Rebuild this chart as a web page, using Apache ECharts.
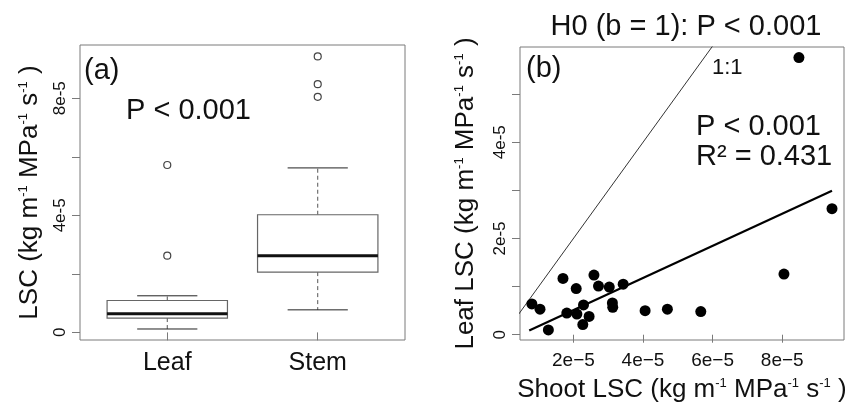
<!DOCTYPE html>
<html><head><meta charset="utf-8">
<script src="https://cdn.jsdelivr.net/npm/echarts@6/dist/echarts.min.js"></script>
<style>html,body{margin:0;padding:0;background:#fff}#c{width:845px;height:405px}</style>
</head><body><div id="c"></div>
<script>
// ---------- data ----------
const categories = ['Leaf', 'Stem'];
// five-number summaries: [lower whisker, Q1, median, Q3, upper whisker]
const leafBox = [1.16e-6, 4.9e-6, 6.4e-6, 1.09e-5, 1.25e-5];
const stemBox = [7.7e-6, 2.06e-5, 2.62e-5, 4.02e-5, 5.62e-5];
const leafOutliers = [2.62e-5, 5.72e-5];
const stemOutliers = [8.05e-5, 8.48e-5, 9.43e-5];

const shootLSC = [8.48e-5, 9.43e-5, 8.05e-5, 0.806e-5, 1.04e-5, 1.28e-5, 1.70e-5, 1.81e-5, 2.08e-5, 2.10e-5, 2.29e-5,
                  2.27e-5, 2.45e-5, 2.59e-5, 2.72e-5, 3.03e-5, 3.12e-5, 3.13e-5, 3.43e-5, 4.06e-5, 4.70e-5, 5.66e-5];
const leafLSC  = [5.76e-5, 2.62e-5, 1.26e-5, 0.64e-5, 0.53e-5, 0.10e-5, 1.17e-5, 0.45e-5, 0.96e-5, 0.43e-5, 0.62e-5,
                  0.21e-5, 0.38e-5, 1.24e-5, 1.01e-5, 0.99e-5, 0.66e-5, 0.57e-5, 1.05e-5, 0.50e-5, 0.53e-5, 0.48e-5];

const fitX = [0.73e-5, 9.43e-5];
const fitY = [0.089e-5, 2.99e-5];
const oneToOneX = [0, 1e-4];
const oneToOneY = [0, 1e-4];

const aYTickValues = [0, 2e-5, 4e-5, 6e-5, 8e-5];
const aYLabelValues = [0, 4e-5, 8e-5];
const aYLabelTexts = ['0', '4e-5', '8e-5'];
const bXTickValues = [2e-5, 4e-5, 6e-5, 8e-5];
const bXLabelTexts = ['2e\u22125', '4e\u22125', '6e\u22125', '8e\u22125'];
const bYTickValues = [0, 1e-5, 2e-5, 3e-5, 4e-5, 5e-5];
const bYLabelValues = [0, 2e-5, 4e-5];
const bYLabelTexts = ['0', '2e-5', '4e-5'];

// ---------- styling ----------
const F = '"Liberation Sans", Arial, Helvetica, sans-serif';
const TXT = '#111';
const FRAME = '#7a7a7a';
const rich = {
  m: { fontSize: 26, fontFamily: F, color: TXT },
  s: { fontSize: 13, fontFamily: F, color: TXT, verticalAlign: 'top' }
};
const unitName = (pre) => '{m|' + pre + 'LSC (kg m}{s|-1}{m| MPa}{s|-1}{m| s}{s|-1}{m| )}';

function labelFrom(values, texts) {
  return function (v) {
    for (let i = 0; i < values.length; i++) if (Math.abs(values[i] - v) < 1e-12) return texts[i];
    return '';
  };
}

const chart = echarts.init(document.getElementById('c'), null, { renderer: 'canvas' });

function renderBox(params, api) {
  const xi = api.value(0);
  const pMin = api.coord([xi, api.value(1)]);
  const pQ1 = api.coord([xi, api.value(2)]);
  const pMd = api.coord([xi, api.value(3)]);
  const pQ3 = api.coord([xi, api.value(4)]);
  const pMx = api.coord([xi, api.value(5)]);
  const w = api.size([0.8, 0])[0];
  const cw = api.size([0.4, 0])[0];
  const cx = pMd[0];
  const dash = { stroke: '#555', lineWidth: 1, lineDash: [4, 3] };
  return {
    type: 'group',
    children: [
      { type: 'line', shape: { x1: cx, y1: pQ3[1], x2: cx, y2: pMx[1] }, style: dash },
      { type: 'line', shape: { x1: cx, y1: pQ1[1], x2: cx, y2: pMin[1] }, style: dash },
      { type: 'line', shape: { x1: cx - cw / 2, y1: pMx[1], x2: cx + cw / 2, y2: pMx[1] }, style: { stroke: '#222', lineWidth: 1 } },
      { type: 'line', shape: { x1: cx - cw / 2, y1: pMin[1], x2: cx + cw / 2, y2: pMin[1] }, style: { stroke: '#222', lineWidth: 1 } },
      { type: 'rect', shape: { x: cx - w / 2, y: pQ3[1], width: w, height: pQ1[1] - pQ3[1] }, style: { fill: '#fff', stroke: '#666', lineWidth: 1.2 } },
      { type: 'line', shape: { x1: cx - w / 2, y1: pMd[1], x2: cx + w / 2, y2: pMd[1] }, style: { stroke: '#111', lineWidth: 3 } }
    ]
  };
}

const boxData = [leafBox, stemBox].map((s, i) => [i + 1].concat(s));
const outlierData = leafOutliers.map(v => [1, v]).concat(stemOutliers.map(v => [2, v]));
const scatterData = shootLSC.map((x, i) => [x, leafLSC[i]]);

function txt(x, y, text, size, align) {
  return {
    type: 'text', x: x, y: y, z: 100,
    style: { text: text, fontSize: size, fontFamily: F, fill: TXT,
             textAlign: align || 'left', align: align || 'left',
             textVerticalAlign: 'middle', verticalAlign: 'middle' }
  };
}

const option = {
  animation: false,
  backgroundColor: '#fff',
  grid: [
    { left: 80, top: 45, width: 325, height: 295, show: true, borderColor: FRAME, borderWidth: 1, backgroundColor: 'transparent', containLabel: false, outerBoundsMode: 'none' },
    { left: 520, top: 47, width: 324, height: 293, show: true, borderColor: FRAME, borderWidth: 1, backgroundColor: 'transparent', containLabel: false, outerBoundsMode: 'none' }
  ],
  xAxis: [
    {
      type: 'value', gridIndex: 0, min: 0.42, max: 2.58,
      axisLine: { show: false }, splitLine: { show: false },
      axisTick: { show: true, length: 8, inside: false, customValues: [1, 2], lineStyle: { color: FRAME } },
      axisLabel: { show: true, customValues: [1, 2], margin: 11, fontSize: 25, fontFamily: F, color: TXT,
                   formatter: (v) => categories[Math.round(v) - 1] || '' }
    },
    {
      type: 'value', gridIndex: 1, min: 4.65e-6, max: 9.775e-5,
      axisLine: { show: false }, splitLine: { show: false },
      axisTick: { show: true, length: 8, customValues: bXTickValues, lineStyle: { color: FRAME } },
      axisLabel: { show: true, customValues: bXTickValues, margin: 11, fontSize: 19, fontFamily: F, color: TXT,
                   formatter: labelFrom(bXTickValues, bXLabelTexts) },
      name: unitName('Shoot '), nameLocation: 'middle', nameGap: 37,
      nameTextStyle: { rich: rich, fontSize: 26, fontFamily: F, color: TXT }
    }
  ],
  yAxis: [
    {
      type: 'value', gridIndex: 0, min: -2.6e-6, max: 9.82e-5,
      axisLine: { show: false }, splitLine: { show: false },
      axisTick: { show: true, length: 8, customValues: aYTickValues, lineStyle: { color: FRAME } },
      axisLabel: { show: true, customValues: aYLabelValues, rotate: 90, margin: 11, fontSize: 17, fontFamily: F, color: TXT,
                   formatter: labelFrom(aYLabelValues, aYLabelTexts) },
      name: unitName(''), nameLocation: 'middle', nameRotate: 90, nameGap: 37,
      nameTextStyle: { rich: rich, fontSize: 26, fontFamily: F, color: TXT }
    },
    {
      type: 'value', gridIndex: 1, min: -1.1e-6, max: 5.98e-5,
      axisLine: { show: false }, splitLine: { show: false },
      axisTick: { show: true, length: 8, customValues: bYTickValues, lineStyle: { color: FRAME } },
      axisLabel: { show: true, customValues: bYLabelValues, rotate: 90, margin: 11, fontSize: 17, fontFamily: F, color: TXT,
                   formatter: labelFrom(bYLabelValues, bYLabelTexts) },
      name: unitName('Leaf '), nameLocation: 'middle', nameRotate: 90, nameGap: 41,
      nameTextStyle: { rich: rich, fontSize: 26, fontFamily: F, color: TXT }
    }
  ],
  series: [
    {
      type: 'custom', xAxisIndex: 0, yAxisIndex: 0, renderItem: renderBox,
      data: boxData, encode: { x: 0, y: [1, 2, 3, 4, 5] }, clip: true, silent: true
    },
    {
      type: 'scatter', xAxisIndex: 0, yAxisIndex: 0, data: outlierData, symbol: 'circle', symbolSize: 7,
      itemStyle: { color: '#fff', borderColor: '#444', borderWidth: 1.2, opacity: 1 }, silent: true
    },
    {
      type: 'line', xAxisIndex: 1, yAxisIndex: 1, data: oneToOneX.map((x, i) => [x, oneToOneY[i]]),
      showSymbol: false, symbol: 'none', clip: true, lineStyle: { color: '#333', width: 1 }, silent: true
    },
    {
      type: 'line', xAxisIndex: 1, yAxisIndex: 1, data: fitX.map((x, i) => [x, fitY[i]]),
      showSymbol: false, symbol: 'none', clip: true, lineStyle: { color: '#000', width: 2.2 }, silent: true
    },
    {
      type: 'scatter', xAxisIndex: 1, yAxisIndex: 1, data: scatterData, symbol: 'circle', symbolSize: 11,
      itemStyle: { color: '#000', opacity: 1 }, silent: true, z: 5
    }
  ],
  graphic: [
    txt(84, 71, '(a)', 29),
    txt(126, 111, 'P < 0.001', 29),
    txt(686, 27, 'H0 (b = 1): P < 0.001', 29, 'center'),
    txt(526, 69, '(b)', 29),
    txt(712, 68, '1:1', 22),
    txt(696, 127, 'P < 0.001', 29),
    txt(696, 157, 'R\u00b2 = 0.431', 29)
  ]
};
chart.setOption(option);
</script>
</body></html>
